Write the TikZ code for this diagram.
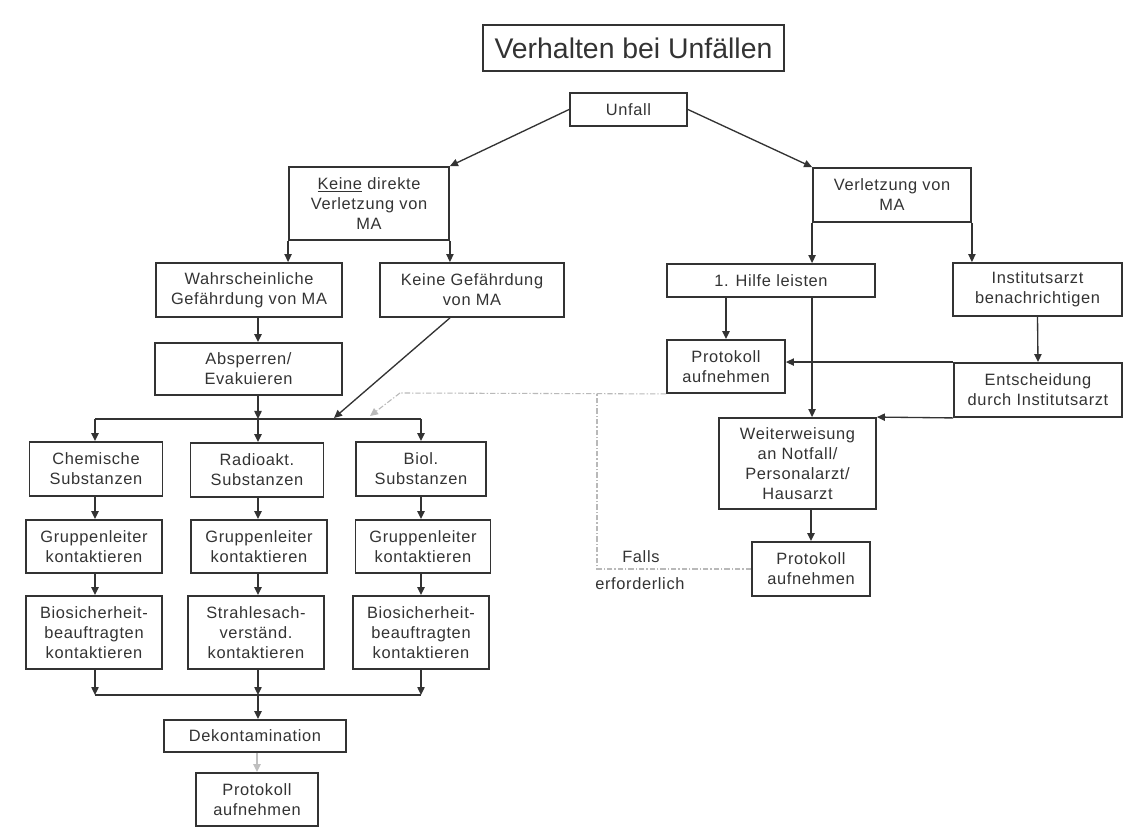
\documentclass[tikz,border=0pt]{standalone}
\usepackage{fontspec}
\setmainfont{Liberation Sans}[LetterSpace=4]
\newfontfamily\titlefont{Liberation Sans}
\usetikzlibrary{arrows.meta,calc}
\definecolor{ink}{HTML}{333333}
\begin{document}
\begin{tikzpicture}[x=0.75pt,y=-0.75pt,
  box/.style={draw=ink, line width=1.4pt, fill=white, align=center, inner sep=0pt, text=ink,
    font=\fontsize{12.3}{15}\selectfont},
  sz/.style 2 args={minimum width=#1*0.75pt, minimum height=#2*0.75pt},
  arr/.style={draw=ink, line width=1pt, -{Triangle[length=6pt,width=5.5pt]}},
  arrl/.style={draw=gray!50, line width=1pt, -{Triangle[length=6pt,width=5.5pt]}},
  ln/.style={draw=ink, line width=1.3pt},
  dsh/.style={draw=gray!55, line width=0.8pt, dash pattern=on 4pt off 1.5pt on 1pt off 1.5pt},
  lbl/.style={text=ink, inner sep=0pt, anchor=west, font=\fontsize{12.3}{15}\selectfont}]
\fill[white] (0,0) rectangle (1132,837);
\useasboundingbox (0,0) rectangle (1132,837);

% nodes
\node[box,sz={301}{46},font=\titlefont\fontsize{21.3}{25}\selectfont] (title) at (633.5,48) {Verhalten bei Unfällen};
\node[box,sz={117}{33}] (unfall) at (628.5,109.5) {Unfall};
\node[box,sz={160}{73}] (keine) at (369,203.5) {\underline{Keine} direkte\\Verletzung von\\MA};
\node[box,sz={158}{54}] (verl) at (892,195) {Verletzung von\\MA};
\node[box,sz={186}{54}] (wahr) at (249,290) {Wahrscheinliche\\Gefährdung von MA};
\node[box,sz={184}{54}] (keineg) at (472,290) {Keine Gefährdung\\von MA};
\node[box,sz={208}{33}] (hilfe) at (771,280.5) {1. Hilfe leisten};
\node[box,sz={169}{53}] (inst) at (1037.5,289.5) {Institutsarzt\\benachrichtigen};
\node[box,sz={187}{52}] (absp) at (248.5,369) {Absperren/\\Evakuieren};
\node[box,sz={118}{53}] (prota) at (726,366.5) {Protokoll\\aufnehmen};
\node[box,sz={168}{54}] (ent) at (1038,390) {Entscheidung\\durch Institutsarzt};
\node[box,sz={157}{91}] (weiter) at (797.5,463.5) {Weiterweisung\\an Notfall/\\Personalarzt/\\Hausarzt};
\node[box,sz={118}{54}] (protb) at (811,569) {Protokoll\\aufnehmen};

\node[box,sz={133}{54}] (chem) at (96,469) {Chemische\\Substanzen};
\node[box,sz={133}{54}] (radio) at (257,470) {Radioakt.\\Substanzen};
\node[box,sz={130}{54}] (biol) at (421,469) {Biol.\\Substanzen};
\node[box,sz={136}{53}] (grpa) at (94,546.5) {Gruppenleiter\\kontaktieren};
\node[box,sz={136}{53}] (grpb) at (259,546.5) {Gruppenleiter\\kontaktieren};
\node[box,sz={135}{53}] (grpc) at (423,546.5) {Gruppenleiter\\kontaktieren};
\node[box,sz={136}{73}] (bioa) at (94,632.5) {Biosicherheit-\\beauftragten\\kontaktieren};
\node[box,sz={136}{73}] (strb) at (256,632.5) {Strahlesach-\\verständ.\\kontaktieren};
\node[box,sz={136}{73}] (bioc) at (421,632.5) {Biosicherheit-\\beauftragten\\kontaktieren};
\node[box,sz={182}{32}] (deko) at (255,736) {Dekontamination};
\node[box,sz={122}{53}] (protc) at (257,799.5) {Protokoll\\aufnehmen};

\node[lbl] (falls) at (622,557) {Falls};
\node[lbl] (erf) at (595,584) {erforderlich};

% junction coordinates
\coordinate (jtl) at (95,419);
\coordinate (jtr) at (421,419);
\coordinate (jtm) at (258,419);
\coordinate (jk) at (334,418);
\coordinate (jd) at (370,416);
\coordinate (dk) at (400,393);
\coordinate (dv) at (597,393);
\coordinate (jbl) at (95,695);
\coordinate (jbr) at (421,695);
\coordinate (jbm) at (258,695);

% top part
\draw[arr] (unfall.west) -- (keine.north east);
\draw[arr] (unfall.east) -- (verl.north west);
\draw[arr] (keine.south west) -- (keine.south west |- wahr.north);
\draw[arr] (keine.south east) -- (keine.south east |- keineg.north);
\draw[arr] (wahr.south -| jtm) -- (absp.north -| jtm);
\draw[arr] (absp.south -| jtm) -- (jtm);
\draw[arr] (keineg.south -| keine.south east) -- (jk);
\draw[ln] (jtl) -- (jtr);
\draw[arr] (jtl) -- (jtl |- chem.north);
\draw[arr] (jtm) -- (jtm |- radio.north);
\draw[arr] (jtr) -- (jtr |- biol.north);

% columns
\draw[arr] (chem.south -| jtl) -- (grpa.north -| jtl);
\draw[arr] (radio.south -| jtm) -- (grpb.north -| jtm);
\draw[arr] (biol.south -| jtr) -- (grpc.north -| jtr);
\draw[arr] (grpa.south -| jtl) -- (bioa.north -| jtl);
\draw[arr] (grpb.south -| jtm) -- (strb.north -| jtm);
\draw[arr] (grpc.south -| jtr) -- (bioc.north -| jtr);
\draw[arr] (bioa.south -| jbl) -- (jbl);
\draw[arr] (strb.south -| jbm) -- (jbm);
\draw[arr] (bioc.south -| jbr) -- (jbr);
\draw[ln] (jbl) -- (jbr);
\draw[arr] (jbm) -- (deko.north -| jbm);
\draw[arrl] (deko.south -| protc.north) -- (protc.north);

% right part
\draw[arr] (verl.south west) -- (verl.south west |- hilfe.north);
\draw[arr] (verl.south east) -- (verl.south east |- inst.north);
\draw[arr] (hilfe.south -| prota.north) -- (prota.north);
\draw[arr] (hilfe.south -| verl.south west) -- (weiter.north -| verl.south west);
\draw[arr] (inst.south) -- (ent.north);
\draw[arr] (ent.north west) -- (ent.north west -| prota.east);
\draw[arr] (ent.south west) -- (weiter.north east);
\draw[arr] (weiter.south -| protb.north) -- (protb.north);

% dashed feedback
\draw[dsh] (protb.west) -| (dv);
\draw[dsh] (prota.south west) -- (dk);
\draw[dsh, -{Triangle[length=6pt,width=5.5pt]}] (dk) -- (jd);
\end{tikzpicture}
\end{document}
